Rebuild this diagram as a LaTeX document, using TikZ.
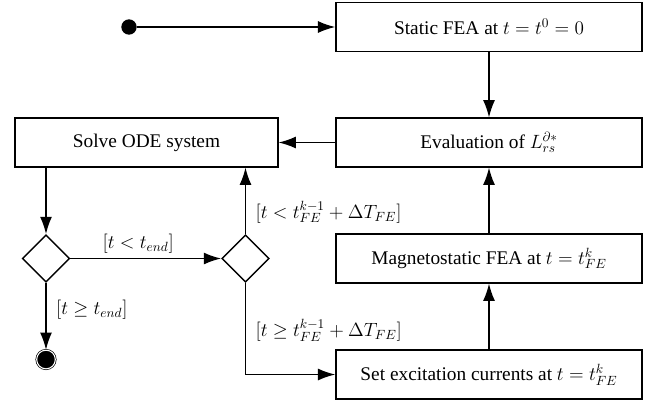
\documentclass[tikz,border=0pt]{standalone}
\usepackage{fontspec}
\setmainfont{Liberation Serif}
\usetikzlibrary{arrows.meta,shapes.geometric}
\begin{document}
\begin{tikzpicture}[x=0.75pt,y=-0.75pt,
  every node/.style={font=\fontsize{14.5}{17}\selectfont},
  actbox/.style={draw, line width=1.1pt, inner sep=0pt, minimum height=36.5pt, minimum width=229.5pt},
  decision/.style={diamond, draw, line width=1.1pt, inner sep=0pt, aspect=1, minimum width=35.5pt, minimum height=35.5pt},
  flow/.style={line width=1.1pt, -{Latex[length=13pt,width=9pt]}},
  guard/.style={inner sep=0pt, font=\fontsize{14}{16}\selectfont}
]
\useasboundingbox (0,0) rectangle (659,405);

% initial and final states
\node[circle, fill=black, inner sep=0pt, minimum size=11.5pt] (init) at (129,27) {};
\node[circle, fill=black, draw=black, double=white, double distance=0.8pt, line width=0.5pt, inner sep=0pt, minimum size=14pt] (final) at (46,359.5) {};

% activities
\node[actbox] (static) at (489,27) {Static FEA at $t=t^0=0$};
\node[actbox] (eval) at (489,142.5) {Evaluation of $L_{rs}^{\partial *}$};
\node[actbox, minimum width=197pt] (solve) at (146.5,142.5) {Solve ODE system};
\node[actbox] (mag) at (489,258.5) {Magnetostatic FEA at $t=t_{FE}^{k}$};
\node[actbox] (set) at (489,374.5) {Set excitation currents at $t=t_{FE}^{k}$};

% decisions
\node[decision] (d1) at (46,258.5) {};
\node[decision] (d2) at (245.5,258.5) {};

% control flow
\draw[flow] (init) -- (static.west);
\draw[flow] (static) -- (eval);
\draw[flow] (eval) -- (solve);
\draw[flow] (solve.south -| d1.north) -- (d1.north);
\draw[flow] (d1.east) -- node[above=3pt, pos=0.45, guard] {$[t<t_{end}]$} (d2.west);
\draw[flow] (d1.south) -- node[right=7pt, pos=0.4, guard] {$[t\geq t_{end}]$} (final);
\draw[flow] (d2.north) -- node[right=7pt, pos=0.33, guard] {$[t<t_{FE}^{k-1}+\Delta T_{FE}]$} (d2.north |- solve.south);
\draw[flow] (d2.south) |- node[right=7pt, pos=0.26, guard] {$[t\geq t_{FE}^{k-1}+\Delta T_{FE}]$} (set.west);
\draw[flow] (set) -- (mag);
\draw[flow] (mag) -- (eval);
\end{tikzpicture}
\end{document}
